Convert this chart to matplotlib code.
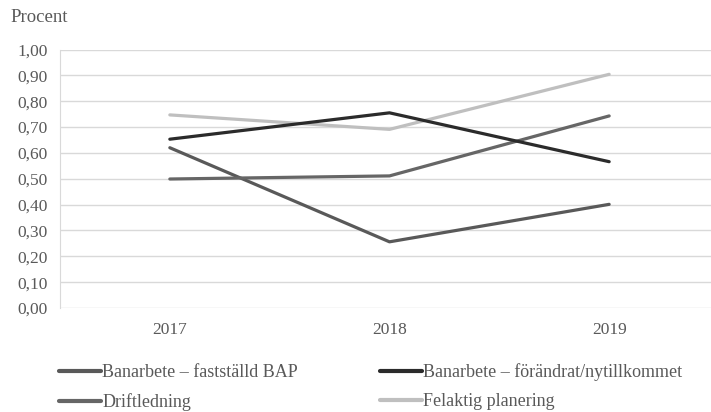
import matplotlib.pyplot as plt
from matplotlib.ticker import FuncFormatter

plt.rcParams['font.family'] = ['Liberation Serif', 'DejaVu Serif']

years = ['2017', '2018', '2019']
bap = [0.62, 0.256, 0.401]
forandrat = [0.653, 0.755, 0.566]
driftledning = [0.499, 0.511, 0.743]
felaktig = [0.747, 0.691, 0.904]

text_color = '#595959'
grid_color = '#d9d9d9'

fig = plt.figure(figsize=(7.11, 4.12), dpi=100)
# plot area runs slightly past the right edge of the figure
ax = fig.add_axes([60 / 711, 1 - 308 / 412, 659 / 711, 258.5 / 412])

x = range(len(years))
series = [
    ('Banarbete – fastställd BAP', bap, '#595959'),
    ('Driftledning', driftledning, '#666666'),
    ('Banarbete – förändrat/nytillkommet', forandrat, '#2b2b2b'),
    ('Felaktig planering', felaktig, '#bfbfbf'),
]
handles = {}
for label, vals, color in series:
    h, = ax.plot(x, vals, color=color, lw=2.3, solid_capstyle='round',
                 solid_joinstyle='round', label=label, zorder=3)
    handles[label] = h

# light line sits under the darker ones
handles['Felaktig planering'].set_zorder(2)

ax.set_xlim(-0.5, 2.5)
ax.set_ylim(0, 1.0)
ax.set_xticks(list(x))
ax.set_xticklabels(years)
ax.set_yticks([i / 10 for i in range(11)])
ax.yaxis.set_major_formatter(FuncFormatter(lambda v, p: f'{v:.2f}'.replace('.', ',')))
ax.grid(axis='y', color=grid_color, lw=1)
ax.set_axisbelow(True)
for side in ['top', 'right', 'bottom']:
    ax.spines[side].set_visible(False)
ax.spines['left'].set_color(grid_color)
ax.tick_params(length=0, labelsize=12.5, colors=text_color)
ax.tick_params(axis='y', pad=9)
ax.tick_params(axis='x', pad=10)

fig.text(10 / 711, 1 - 18 / 412, 'Procent', fontsize=13.5, color=text_color,
         va='center', ha='left')

order = ['Banarbete – fastställd BAP', 'Driftledning',
         'Banarbete – förändrat/nytillkommet', 'Felaktig planering']
leg = fig.legend([handles[k] for k in order], order, ncol=2, loc='upper left',
                 bbox_to_anchor=(43 / 711, 1 - 347 / 412), frameon=False,
                 fontsize=13, handlelength=2.3, handletextpad=0.08,
                 columnspacing=4.55, labelspacing=0.68, labelcolor=text_color)
for line in leg.get_lines():
    line.set_linewidth(3)

fig.savefig('out.png', dpi=100)
